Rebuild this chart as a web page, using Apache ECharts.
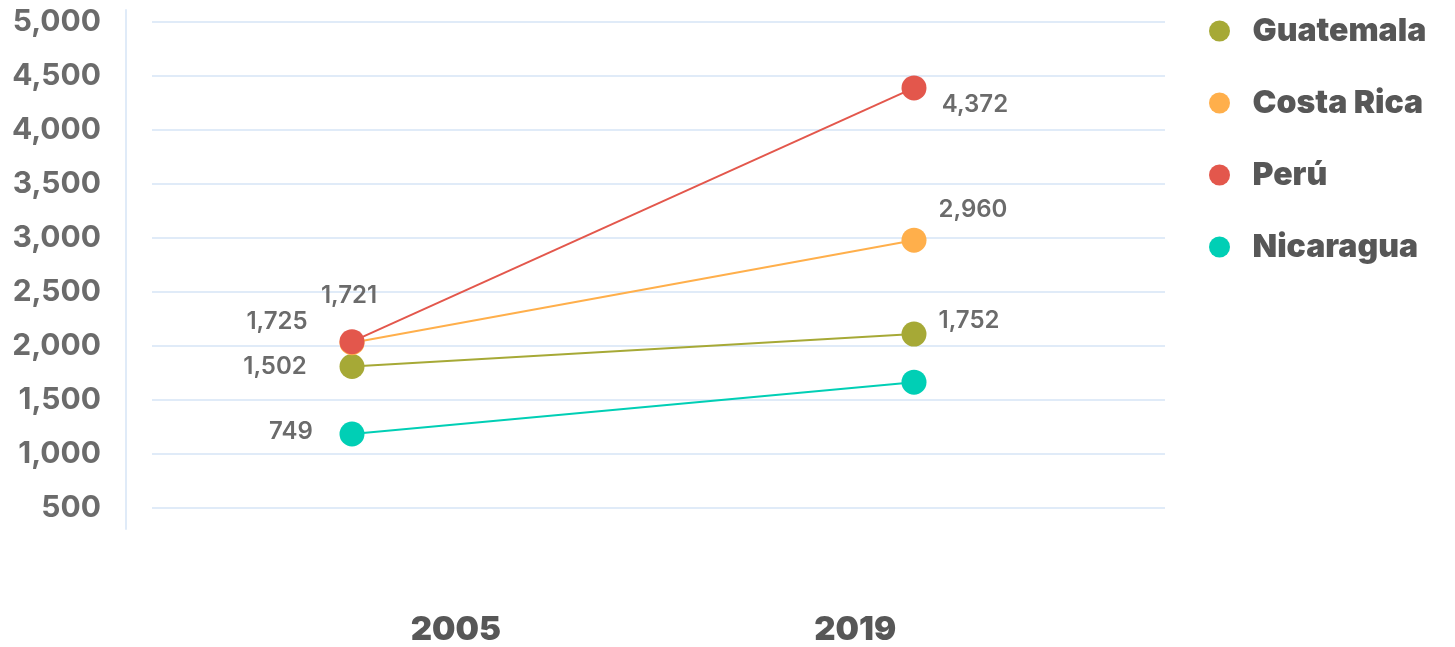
<!DOCTYPE html>
<html>
<head>
<meta charset="utf-8">
<script src="https://cdn.jsdelivr.net/npm/echarts@6/dist/echarts.min.js"></script>
<style>
  html, body { margin: 0; padding: 0; background: #fff; }
  #chart { width: 1455px; height: 647px; }
</style>
</head>
<body>
<div id="chart"></div>
<script>
// ---- data ----
const years = ['2005', '2019'];
const seriesNames = ['Guatemala', 'Costa Rica', 'Perú', 'Nicaragua'];
// plotted positions (as drawn in the picture)
const guatemala = [1810, 2110];
const costaRica = [2030, 2980];
const peru = [2040, 4390];
const nicaragua = [1185, 1665];
// value labels printed next to the points
const guatemalaLabels = ['1,502', '1,752'];
const costaRicaLabels = ['1,725', '2,960'];
const peruLabels = ['1,721', '4,372'];
const nicaraguaLabels = ['749', null];
const yMin = 500, yMax = 5000, yStep = 500;

// ---- styling ----
const colors = ['#a6a936', '#ffaf4b', '#e3574c', '#00cfb5'];
const labelOffsets = [
  [[-77, 0], [55, -13]],
  [[-75, -21], [59, -30]],
  [[-3, -46], [61, 17]],
  [[-61, -2], [0, 0]]
];
const allValues = [guatemala, costaRica, peru, nicaragua];
const allLabels = [guatemalaLabels, costaRicaLabels, peruLabels, nicaraguaLabels];

const series = seriesNames.map((name, s) => ({
  name: name,
  type: 'line',
  xAxisIndex: 1,
  yAxisIndex: 1,
  symbol: 'circle',
  symbolSize: 25,
  lineStyle: { width: 2, color: colors[s] },
  itemStyle: { color: colors[s] },
  z: 2 + s,
  data: allValues[s].map((v, i) => ({
    value: v,
    label: {
      show: allLabels[s][i] != null,
      position: 'inside',
      align: 'center',
      verticalAlign: 'middle',
      offset: labelOffsets[s][i],
      formatter: () => allLabels[s][i],
      color: '#6b6b6b',
      fontSize: 24,
      fontWeight: 600,
      fontFamily: 'Inter, "Noto Sans", sans-serif'
    }
  }))
}));

const chart = echarts.init(document.getElementById('chart'));
chart.setOption({
  animation: false,
  backgroundColor: '#ffffff',
  color: colors,
  legend: {
    orient: 'vertical',
    left: 1204,
    top: 10,
    icon: 'circle',
    itemWidth: 56,
    itemHeight: 21,
    itemGap: 40,
    data: seriesNames,
    textStyle: {
      color: '#575757',
      fontSize: 32,
      fontWeight: 900,
      fontFamily: 'Inter, "Noto Sans", sans-serif'
    }
  },
  grid: [
    { left: 152, right: 290, top: 22, bottom: 139 },
    { left: 352, right: 541, top: 22, bottom: 139 },
    { left: 256, right: 400, top: 22, bottom: 139 },
    { left: 126, right: 1200, top: 10, bottom: 118 }
  ],
  xAxis: [
    { gridIndex: 0, type: 'category', data: years, show: false },
    { gridIndex: 1, type: 'category', data: years, boundaryGap: false, show: false },
    {
      gridIndex: 2, type: 'category', data: years, boundaryGap: true,
      axisLine: { show: false }, axisTick: { show: false },
      axisLabel: {
        margin: 108,
        color: '#575757',
        fontSize: 33,
        fontWeight: 900,
        fontFamily: 'Inter, "Noto Sans", sans-serif'
      }
    },
    { gridIndex: 3, type: 'value', show: false }
  ],
  yAxis: [
    {
      gridIndex: 0, type: 'value', min: yMin, max: yMax, interval: yStep,
      axisLine: { show: false }, axisTick: { show: false },
      splitLine: { lineStyle: { color: '#e0ebf8', width: 2 } },
      axisLabel: {
        margin: 51,
        color: '#6b6b6b',
        fontSize: 30,
        fontWeight: 700,
        fontFamily: 'Inter, "Noto Sans", sans-serif',
        padding: [8, 0, 0, 0],
        formatter: v => v.toLocaleString('en-US')
      }
    },
    { gridIndex: 1, type: 'value', min: yMin, max: yMax, interval: yStep, show: false },
    { gridIndex: 2, type: 'value', min: yMin, max: yMax, show: false },
    {
      gridIndex: 3, type: 'value', min: 0, max: 1,
      axisLine: { show: true, lineStyle: { color: '#e0ebf8', width: 2 } },
      axisTick: { show: false }, axisLabel: { show: false }, splitLine: { show: false }
    }
  ],
  series: series
});
</script>
</body>
</html>
